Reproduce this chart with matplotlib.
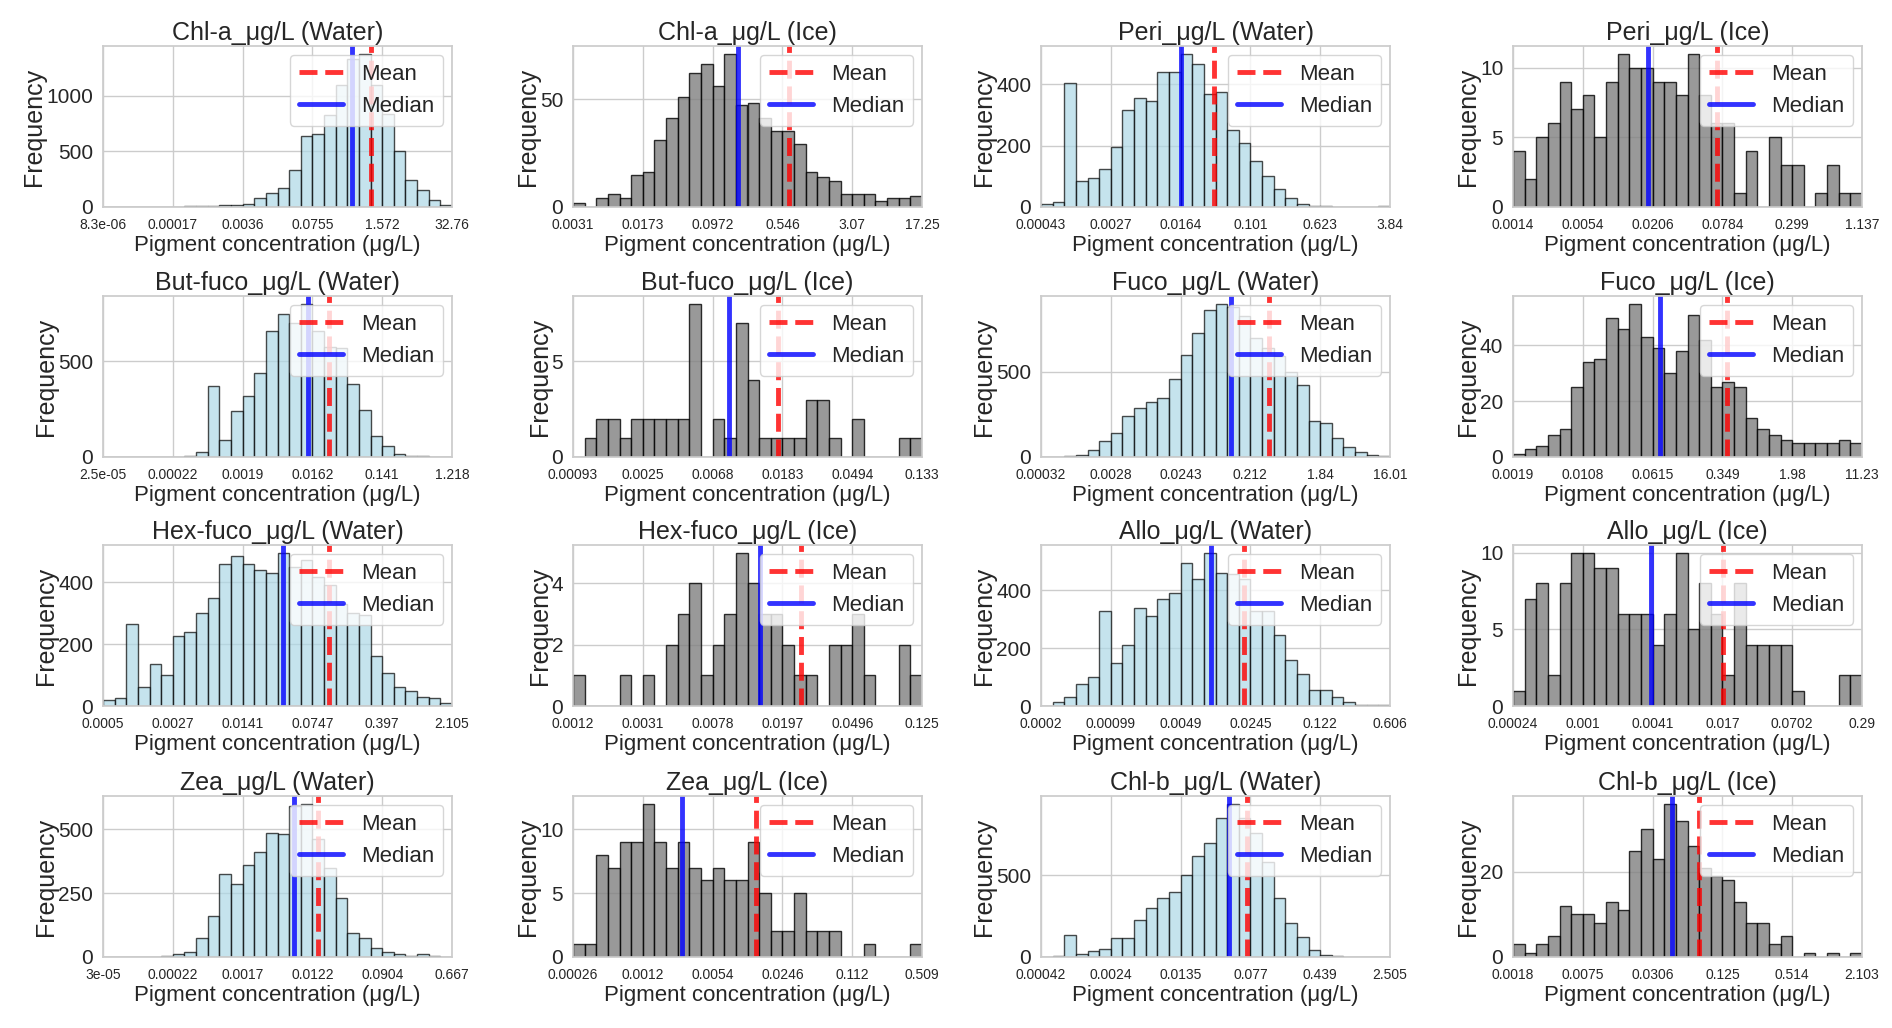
import numpy as np
import matplotlib
matplotlib.use("Agg")
import matplotlib.pyplot as plt
from matplotlib.ticker import MultipleLocator
import seaborn as sns

sns.set_theme(style="whitegrid")
plt.rcParams['font.family'] = ['Liberation Sans', 'DejaVu Sans']

titles = ["Chl-a_μg/L (Water)", "Chl-a_μg/L (Ice)", "Peri_μg/L (Water)", "Peri_μg/L (Ice)",
          "But-fuco_μg/L (Water)", "But-fuco_μg/L (Ice)", "Fuco_μg/L (Water)", "Fuco_μg/L (Ice)",
          "Hex-fuco_μg/L (Water)", "Hex-fuco_μg/L (Ice)", "Allo_μg/L (Water)", "Allo_μg/L (Ice)",
          "Zea_μg/L (Water)", "Zea_μg/L (Ice)", "Chl-b_μg/L (Water)", "Chl-b_μg/L (Ice)"]

tick_labels = [
    ["8.3e-06", "0.00017", "0.0036", "0.0755", "1.572", "32.76"],
    ["0.0031", "0.0173", "0.0972", "0.546", "3.07", "17.25"],
    ["0.00043", "0.0027", "0.0164", "0.101", "0.623", "3.84"],
    ["0.0014", "0.0054", "0.0206", "0.0784", "0.299", "1.137"],
    ["2.5e-05", "0.00022", "0.0019", "0.0162", "0.141", "1.218"],
    ["0.00093", "0.0025", "0.0068", "0.0183", "0.0494", "0.133"],
    ["0.00032", "0.0028", "0.0243", "0.212", "1.84", "16.01"],
    ["0.0019", "0.0108", "0.0615", "0.349", "1.98", "11.23"],
    ["0.0005", "0.0027", "0.0141", "0.0747", "0.397", "2.105"],
    ["0.0012", "0.0031", "0.0078", "0.0197", "0.0496", "0.125"],
    ["0.0002", "0.00099", "0.0049", "0.0245", "0.122", "0.606"],
    ["0.00024", "0.001", "0.0041", "0.017", "0.0702", "0.29"],
    ["3e-05", "0.00022", "0.0017", "0.0122", "0.0904", "0.667"],
    ["0.00026", "0.0012", "0.0054", "0.0246", "0.112", "0.509"],
    ["0.00042", "0.0024", "0.0135", "0.077", "0.439", "2.505"],
    ["0.0018", "0.0075", "0.0306", "0.125", "0.514", "2.103"],
]

y_steps = [500, 50, 200, 5, 500, 5, 500, 20, 200, 2, 200, 5, 250, 5, 500, 20]

medians = [0.42, 0.183, 0.0165, 0.0186, 0.0141, 0.0086, 0.114, 0.0736,
           0.0374, 0.01456, 0.00984, 0.00395, 0.00716, 0.00277, 0.0459, 0.0454]
means = [0.98, 0.645, 0.0395, 0.0697, 0.0273, 0.0171, 0.374, 0.393,
         0.112, 0.0249, 0.0212, 0.0173, 0.0141, 0.0138, 0.0710, 0.078]

counts = [
    [2, 2, 3, 3, 2, 0, 0, 10, 12, 10, 15, 15, 30, 80, 130, 170, 330, 640, 660, 830, 1100, 1330, 1380, 1100, 840, 500, 240, 150, 60, 15],
    [2, 0, 4, 6, 4, 15, 16, 31, 41, 51, 62, 66, 56, 71, 47, 48, 41, 35, 35, 29, 16, 14, 12, 6, 6, 6, 3, 4, 4, 5],
    [10, 15, 405, 85, 95, 125, 195, 315, 355, 345, 440, 440, 500, 465, 370, 375, 250, 210, 150, 100, 60, 30, 10, 3, 2, 1, 1, 1, 1, 3],
    [4, 2, 5, 6, 9, 7, 8, 5, 9, 11, 10, 10, 9, 9, 8, 11, 8, 6, 6, 1, 4, 0, 5, 3, 3, 0, 1, 3, 1, 1],
    [0, 0, 0, 0, 0, 0, 0, 5, 25, 370, 90, 240, 320, 440, 655, 745, 700, 800, 660, 575, 570, 380, 245, 110, 55, 15, 5, 3, 1, 0],
    [0, 1, 2, 2, 1, 2, 2, 2, 2, 2, 8, 0, 2, 1, 7, 4, 1, 1, 1, 1, 3, 3, 1, 0, 2, 0, 0, 0, 1, 1],
    [0, 0, 5, 10, 40, 95, 140, 240, 290, 320, 345, 460, 600, 730, 860, 900, 880, 830, 700, 640, 590, 500, 420, 210, 200, 110, 60, 30, 10, 5],
    [1, 3, 4, 8, 10, 25, 34, 35, 50, 46, 55, 43, 39, 30, 38, 51, 42, 25, 27, 25, 14, 10, 8, 6, 5, 5, 5, 5, 6, 5],
    [20, 25, 265, 60, 135, 100, 225, 240, 300, 350, 460, 485, 460, 440, 430, 495, 450, 470, 415, 390, 330, 300, 295, 160, 105, 60, 50, 30, 25, 10],
    [1, 0, 0, 0, 1, 0, 1, 0, 2, 3, 4, 1, 2, 3, 5, 4, 3, 3, 2, 1, 1, 0, 2, 2, 3, 1, 0, 0, 2, 1],
    [0, 15, 30, 75, 100, 330, 150, 210, 340, 310, 370, 390, 495, 440, 530, 460, 455, 440, 330, 330, 245, 160, 110, 55, 55, 30, 15, 5, 5, 3],
    [1, 7, 8, 2, 8, 10, 10, 9, 9, 6, 6, 6, 4, 6, 10, 5, 8, 6, 2, 8, 4, 4, 4, 4, 1, 0, 0, 0, 2, 2],
    [0, 0, 0, 0, 0, 5, 10, 20, 75, 160, 325, 285, 360, 410, 485, 480, 590, 600, 460, 350, 230, 95, 75, 35, 20, 10, 5, 10, 5, 0],
    [1, 1, 8, 7, 9, 9, 12, 9, 7, 9, 7, 6, 7, 6, 6, 9, 5, 2, 2, 5, 2, 2, 2, 0, 0, 1, 0, 0, 0, 1],
    [0, 5, 135, 20, 35, 50, 115, 115, 225, 300, 360, 400, 505, 620, 700, 855, 940, 850, 760, 580, 360, 210, 120, 40, 15, 5, 2, 0, 0, 3],
    [3, 1, 3, 5, 12, 10, 10, 8, 13, 11, 25, 30, 23, 36, 32, 26, 21, 19, 18, 13, 8, 8, 3, 5, 0, 1, 0, 1, 0, 1],
]

W, H = 1892, 1028
fig = plt.figure(figsize=(W / 100, H / 100), dpi=100)
col_left = [103, 573, 1041, 1513]
row_top = [46, 296, 545, 796]
aw, ah = 349, 161

for i in range(16):
    r, c = divmod(i, 4)
    ax = fig.add_axes([col_left[c] / W, 1 - (row_top[r] + ah) / H, aw / W, ah / H])
    lo = np.log10(float(tick_labels[i][0]))
    hi = np.log10(float(tick_labels[i][-1]))
    edges = np.linspace(lo, hi, len(counts[i]) + 1)
    water = "Water" in titles[i]
    ax.bar(edges[:-1], counts[i], width=np.diff(edges), align='edge',
           color='lightblue' if water else 'gray', alpha=0.7 if water else 0.8,
           edgecolor='black', linewidth=1)
    ax.axvline(np.log10(means[i]), color='red', ls='--', lw=3.5, alpha=0.8, label='Mean')
    ax.axvline(np.log10(medians[i]), color='blue', ls='-', lw=3.5, alpha=0.8, label='Median')
    ax.set_xlim(lo, hi)
    ax.set_xticks(np.linspace(lo, hi, 6))
    ax.set_xticklabels(tick_labels[i], fontsize=10)
    ax.yaxis.set_major_locator(MultipleLocator(y_steps[i]))
    ax.set_ylim(0, max(counts[i]) * 1.05)
    ax.tick_params(axis='y', labelsize=15, pad=1)
    ax.tick_params(axis='x', pad=2)
    ax.set_title(titles[i], fontsize=18, pad=4)
    ax.set_xlabel("Pigment concentration (μg/L)", fontsize=16, labelpad=2)
    ax.set_ylabel("Frequency", fontsize=18, labelpad=0)
    ax.legend(loc='upper right', fontsize=16, handlelength=2, borderaxespad=0.4)

fig.savefig("out.png", dpi=100)
